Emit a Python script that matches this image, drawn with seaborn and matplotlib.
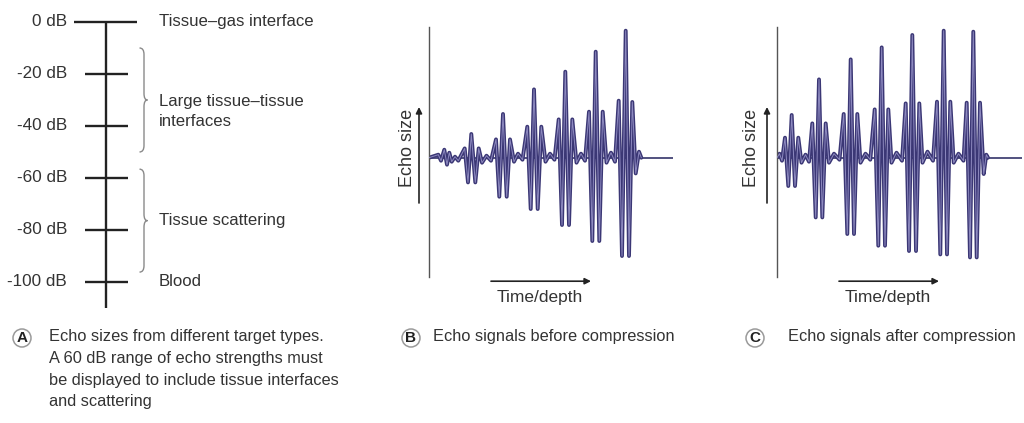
import numpy as np
import pandas as pd
import matplotlib
matplotlib.use("Agg")
import matplotlib.pyplot as plt
import seaborn as sns
from matplotlib.path import Path
from matplotlib.patches import PathPatch, Circle

# ---------------- data ----------------
# Panel A: dB scale of echo sizes
db_levels = [0, -20, -40, -60, -80, -100]
db_labels = ["0 dB", "-20 dB", "-40 dB", "-60 dB", "-80 dB", "-100 dB"]
target_labels = ["Tissue\u2013gas interface", "Large tissue\u2013tissue\ninterfaces",
                 "Tissue scattering", "Blood"]
target_levels = [0, -34.5, -76.3, -100]
brace_ranges = [(-10.1, -50.1), (-56.7, -96.3)]

# Panel B: echo signal before compression (extremes)
before_t = [0, 9.3, 12, 15.3, 18, 20.3, 22.7, 26, 29.3,
            35.7, 39, 42.3, 46.3, 49.7,
            53, 57.5, 62,
            67, 70.3, 74, 77.7, 81,
            85, 89, 93.5,
            98.3, 101.7, 105, 108.7, 112.3,
            116.5, 121, 125.5,
            129.7, 133, 136.3, 140, 143.3,
            147.5, 152, 156,
            160, 163.3, 166.7, 170.3, 173.7,
            177.5, 182, 186,
            189.7, 193, 196.7, 200, 203.3,
            206.7, 210, 212.3]
before_amp = [0, 3, -3, 8, -7, 5, -4, 1, -3,
              9.3, -24.7, 23.7, -24.7, 9.3,
              -5, 2, -3,
              18.3, -39, 43.7, -39, 18.3,
              -4, 4, -2,
              31, -51.3, 68.3, -51.3, 31,
              -4, 4, -2,
              38.3, -67.3, 86, -67.3, 38.3,
              -5, 4, -3,
              46, -83.3, 106, -83.3, 46,
              -5, 5, -4,
              57, -98.3, 127, -98.3, 55.7,
              -15.7, 6, 0]

# Panel C: echo signal after compression
after_t = [0, 2.5, 5,
           8, 11.3, 14.7, 18, 21.3,
           24.5, 28.5, 32,
           35.3, 38.7, 42, 45.3, 48.7,
           52, 57, 62.5,
           66.7, 70.3, 73.7, 77, 80.3,
           83.5, 88.5, 93.3,
           97.7, 101.3, 104.7, 108, 111.3,
           114.5, 119.5, 125,
           128.7, 132, 135.3, 139, 142.3,
           145.5, 150.5, 156,
           160, 163.3, 166.7, 170, 173.3,
           176.7, 181.5, 186.5,
           189.7, 193, 196.3, 199.7, 203,
           206.7, 209.3, 211]
after_amp = [0, 4, -3,
             20, -28.3, 42.7, -28.3, 20,
             -5, 3, -4,
             34.3, -59.7, 78.3, -59.7, 34.3,
             -5, 4, -2,
             43.7, -76.3, 98.3, -76.3, 43.7,
             -5, 4, -2,
             48.3, -88, 110.3, -88, 48.3,
             -5, 5, -3,
             54.3, -93.3, 122.7, -93.3, 54.3,
             -5, 6, -3,
             56, -96.7, 127, -96.7, 56,
             -5, 4, -3,
             55, -99.7, 126, -99.7, 55,
             -16.3, 3, 0]

captions = [("A", "Echo sizes from different target types.\nA 60 dB range of echo strengths must\n"
                  "be displayed to include tissue interfaces\nand scattering"),
            ("B", "Echo signals before compression"),
            ("C", "Echo signals after compression")]

# ---------------- style ----------------
sns.set_style("white")
plt.rcParams['font.family'] = ['Liberation Sans', 'DejaVu Sans']
TXT = "#333333"
WAVE = "#3b3775"
WAVE_IN = "#8e8ac0"

W, H = 1024, 423
fig = plt.figure(figsize=(W / 100, H / 100), dpi=100)


def px_axes(left, top, right, bottom):
    return fig.add_axes([left / W, 1 - bottom / H, (right - left) / W, (bottom - top) / H])


# overlay in pixel coordinates for captions
ov = fig.add_axes([0, 0, 1, 1], zorder=-1)
ov.set_xlim(0, W)
ov.set_ylim(H, 0)
ov.axis("off")

# ---------------- Panel A ----------------
axA = px_axes(0, 11, 340, 308)
axA.set_xlim(0, 340)
axA.set_ylim(-110.1, 4.12)
axA.axis("off")
axA.vlines(106, -110.1, 0, color="#222222", lw=1.7)
for lev, lab in zip(db_levels, db_labels):
    x0, x1 = (74, 137) if lev == 0 else (85, 128)
    axA.hlines(lev, x0, x1, color="#222222", lw=1.7)
    axA.text(67, lev, lab, ha="right", va="center", fontsize=12.3, color=TXT)
for lev, lab in zip(target_levels, target_labels):
    axA.text(159, lev, lab, ha="left", va="center", fontsize=12.1, color=TXT,
             linespacing=1.45)


def brace(ax, y_top, y_bot, x_line=144.0, hook=4.5, tip=3.5):
    ym = (y_top + y_bot) / 2
    c = 2.5
    verts = [(x_line - hook, y_top), (x_line, y_top), (x_line, y_top - c),
             (x_line, ym + c), (x_line, ym), (x_line + tip, ym),
             (x_line, ym), (x_line, ym - c),
             (x_line, y_bot + c), (x_line, y_bot), (x_line - hook, y_bot)]
    codes = [Path.MOVETO, Path.CURVE3, Path.CURVE3,
             Path.LINETO, Path.CURVE3, Path.CURVE3,
             Path.CURVE3, Path.CURVE3,
             Path.LINETO, Path.CURVE3, Path.CURVE3]
    ax.add_patch(PathPatch(Path(verts, codes), fill=False, edgecolor="#8a8a8a", lw=1.0))


for yt, yb in brace_ranges:
    brace(axA, yt, yb)

# ---------------- Panels B and C ----------------
def wave_panel(left, right, t, amp, label_dx):
    ax = px_axes(left, 27, right, 277)
    df = pd.DataFrame({"t": t, "amp": amp})
    ax.axhline(0, color="#34336a", lw=1.2, zorder=1)
    sns.lineplot(data=df, x="t", y="amp", sort=False, color=WAVE, lw=2.8,
                 ax=ax, zorder=2, solid_joinstyle="round")
    sns.lineplot(data=df, x="t", y="amp", sort=False, color=WAVE_IN, lw=0.7,
                 ax=ax, zorder=3, solid_joinstyle="round")
    ax.set_xlim(0, right - left)
    ax.set_ylim(-119.3, 130.7)
    for s in ["top", "right", "bottom"]:
        ax.spines[s].set_visible(False)
    ax.spines["left"].set_color("#555555")
    ax.spines["left"].set_linewidth(1.0)
    ax.set_xticks([])
    ax.set_yticks([])
    ax.set_xlabel("")
    ax.set_ylabel("")
    ax.annotate("", xy=(-10, 50.7), xytext=(-10, -45.3), xycoords="data",
                annotation_clip=False,
                arrowprops=dict(arrowstyle="-|>", color="#222222", lw=1.2,
                                mutation_scale=9, shrinkA=0, shrinkB=0))
    ax.text(label_dx, 9.7, "Echo size", rotation=90, ha="center", va="center",
            fontsize=13, color=TXT, clip_on=False)
    ax.annotate("", xy=(162, -123.5), xytext=(62, -123.5), xycoords="data",
                annotation_clip=False,
                arrowprops=dict(arrowstyle="-|>", color="#222222", lw=1.2,
                                mutation_scale=9, shrinkA=0, shrinkB=0))
    ax.text(111, -139.5, "Time/depth", ha="center", va="center", fontsize=12.5,
            color=TXT, clip_on=False)
    return ax


wave_panel(429, 673, before_t, before_amp, -21)
wave_panel(777, 1022, after_t, after_amp, -25)

# ---------------- captions ----------------
circ_x = [22, 411, 755]
text_x = [49, 433, 788]
for (letter, txt), cx, tx in zip(captions, circ_x, text_x):
    ov.add_patch(Circle((cx, 338), 9, fill=False, edgecolor="#9a9a9a", lw=1.1))
    ov.text(cx, 338.5, letter, ha="center", va="center", fontsize=11,
            fontweight="bold", color="#222222")
    ov.text(tx, 329.5, txt, ha="left", va="top", fontsize=11.8, color=TXT,
            linespacing=1.55)

fig.savefig("out.png", dpi=100, facecolor="white")
